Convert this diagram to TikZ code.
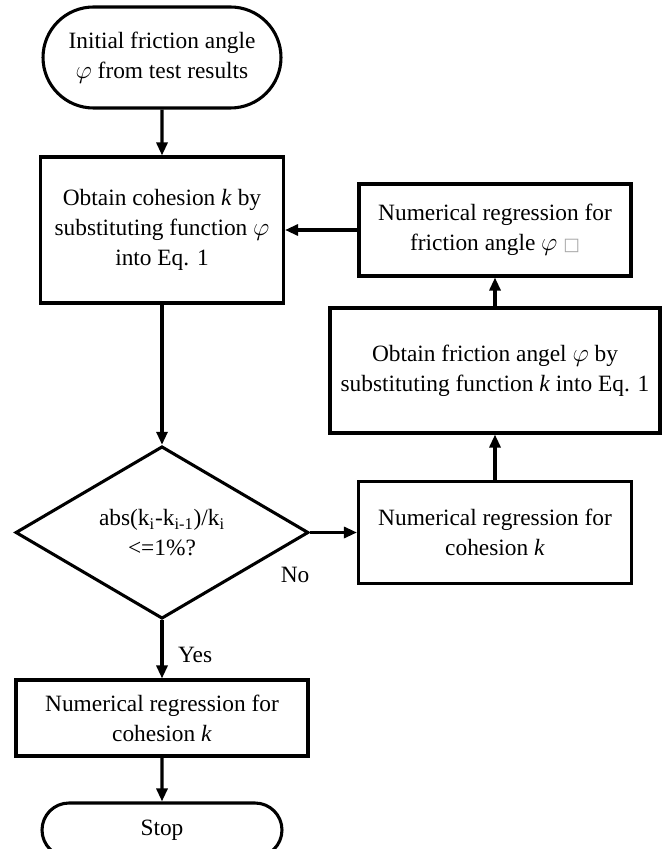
\documentclass[tikz,border=0pt]{standalone}
\usepackage{fontspec}
\setmainfont{Liberation Serif}
\newfontfamily\symbfont{DejaVu Sans}
\usetikzlibrary{arrows.meta,shapes.geometric,shapes.misc}

\begin{document}
\begin{tikzpicture}[every node/.style={font=\fontsize{13.3}{17}\selectfont, align=center}, >={Triangle[length=2.6mm,width=2.2mm]}, line width=1.75pt,
	procbox/.style={draw, rectangle, inner sep=2pt},
	termbox/.style={draw, rounded rectangle, inner sep=2pt},
	decidebox/.style={draw, diamond, inner sep=0pt}]
	\useasboundingbox (0,0) rectangle (13.38,-16.98);
	\node[termbox, minimum width=4.9cm, minimum height=2.02cm] (start) at (3.24,-1.15) {Initial friction angle\\ $\varphi$ from test results};
	\node[procbox, minimum width=4.86cm, minimum height=2.92cm] (cohes) at (3.24,-4.6) {Obtain cohesion \textit{k} by\\ substituting function $\varphi$\\ into Eq. 1};
	\node[procbox, minimum width=5.44cm, minimum height=1.84cm] (regphi) at (9.9,-4.6) {Numerical regression for\\ friction angle $\varphi$ {\fontsize{10}{10}\selectfont\color{gray!70}\symbfont □}};
	\node[procbox, minimum width=6.6cm, minimum height=2.5cm] (fric) at (9.9,-7.41) {Obtain friction angel $\varphi$\ by\\ substituting function \textit{k}\ into Eq. 1};
	\node[procbox, minimum width=5.46cm, minimum height=2.04cm] (regk) at (9.9,-10.65) {Numerical regression for\\ cohesion \textit{k}};
	\node[decidebox, minimum width=5.86cm, minimum height=3.0cm] (check) at (3.24,-10.65) {abs(k\textsubscript{i}-k\textsubscript{i-1})/k\textsubscript{i}\\ <=1\%?};
	\node[procbox, minimum width=5.84cm, minimum height=1.52cm] (final) at (3.24,-14.36) {Numerical regression for\\ cohesion \textit{k}};
	\node[termbox, minimum width=4.94cm, minimum height=1.08cm] (stop) at (3.24,-16.6) {Stop};
	\draw[->] (start) -- (cohes);
	\draw[->] (cohes) -- (check);
	\draw[->] (check) -- (regk);
	\node at ([xshift=-0.3cm,yshift=-0.85cm]check.east) {No};
	\draw[->] (regk) -- (fric);
	\draw[->] (fric) -- (regphi);
	\draw[->] (regphi) -- (cohes);
	\draw[->] (check) -- node[right=5pt, yshift=-3pt] {Yes} (final);
	\draw[->] (final) -- (stop);
\end{tikzpicture}
\end{document}
